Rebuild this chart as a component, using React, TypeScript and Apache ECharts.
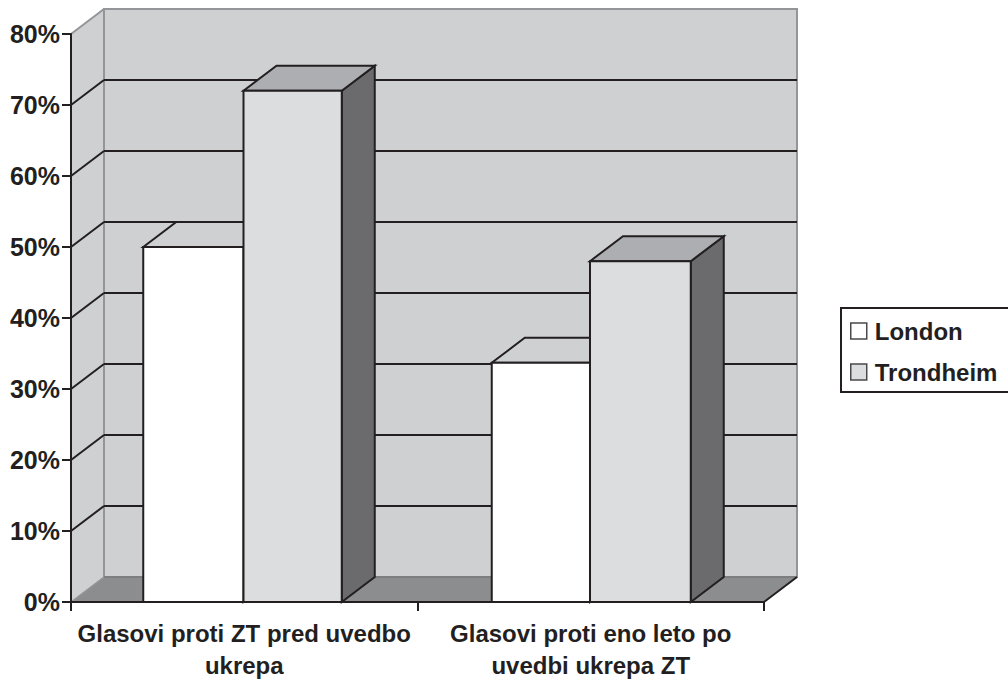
import React, { useEffect, useRef } from "react";
import * as echarts from "echarts";

const categories = ["Glasovi proti ZT pred uvedbo\nukrepa", "Glasovi proti eno leto po\nuvedbi ukrepa ZT"];
const londonValues = [50, 33.7];
const trondheimValues = [72, 48];
const gridTicks = [10, 20, 30, 40, 50, 60, 70];

const INK = "#231f20";
const WALL = "#cfd0d2";
const WALL_EDGE = "#939598";
const FLOOR = "#8c8d8f";
const DX = 33;
const DY = -25;
// Bar edges, in px from the category centre: [left, middle, right]
const barEdges = [
  [-101, -0.75, 97.5],
  [-99, -0.75, 100],
];

const poly = (points: number[][], fill: string, stroke: string | null, lineWidth = 2) => ({
  type: "polygon",
  shape: { points },
  style: { fill, stroke: stroke ?? "none", lineWidth, lineJoin: "miter" },
});
const seg = (a: number[], b: number[], stroke: string, lineWidth = 2) => ({
  type: "line",
  shape: { x1: a[0], y1: a[1], x2: b[0], y2: b[1] },
  style: { stroke, lineWidth },
});

function renderWalls(params: any, api: any) {
  const cs = params.coordSys;
  const l = cs.x;
  const r = cs.x + cs.width;
  const t = cs.y;
  const b = cs.y + cs.height;
  return {
    type: "group",
    children: [
      poly([[l + DX, t + DY], [r + DX, t + DY], [r + DX, b + DY], [l + DX, b + DY]], WALL, WALL_EDGE, 2),
      poly([[l, b], [l, t], [l + DX, t + DY], [l + DX, b + DY]], WALL, null),
      seg([l, t], [l + DX, t + DY], WALL_EDGE),
      seg([l + DX, t + DY], [l + DX, b + DY], WALL_EDGE),
      poly([[l, b], [r, b], [r + DX, b + DY], [l + DX, b + DY]], FLOOR, null),
      seg([l + DX, b + DY], [r + DX, b + DY], "#7d7e80"),
      seg([l, b], [l + DX, b + DY], WALL_EDGE, 1.5),
      seg([r, b], [r + DX, b + DY], INK),
    ],
  };
}

function renderGridLine(params: any, api: any) {
  const y = api.coord([0, api.value(0)])[1];
  const cs = params.coordSys;
  const l = cs.x;
  const r = cs.x + cs.width;
  return {
    type: "group",
    children: [
      seg([l, y], [l + DX, y + DY], INK),
      seg([l + DX, y + DY], [r + DX, y + DY], INK),
    ],
  };
}

function barRenderer(slot: number, front: string, top: string, side: string) {
  return (params: any, api: any) => {
    const idx = api.value(0);
    const p = api.coord([idx, api.value(1)]);
    const base = api.coord([idx, 0]);
    const e = barEdges[idx];
    const x0 = p[0] + e[slot];
    const x1 = p[0] + e[slot + 1];
    const yt = p[1];
    const yb = base[1];
    return {
      type: "group",
      children: [
        poly([[x1, yt], [x1 + DX, yt + DY], [x1 + DX, yb + DY], [x1, yb]], side, INK),
        poly([[x0, yt], [x0 + DX, yt + DY], [x1 + DX, yt + DY], [x1, yt]], top, INK),
        poly([[x0, yt], [x1, yt], [x1, yb], [x0, yb]], front, INK),
      ],
    };
  };
}

export default function App() {
  const ref = useRef<HTMLDivElement>(null);
  useEffect(() => {
    const chart = echarts.init(ref.current!, null, { renderer: "svg" });
    const font = { fontFamily: "Liberation Sans", fontWeight: "bold" as const, fontSize: 24, color: INK };
    chart.setOption({
      animation: false,
      backgroundColor: "#ffffff",
      grid: { left: 71, top: 34, width: 693, height: 568, containLabel: false, outerBoundsMode: "none" },
      graphic: [
        {
          type: "rect",
          silent: true,
          shape: { x: 841, y: 308, width: 200, height: 84 },
          style: { fill: "#ffffff", stroke: INK, lineWidth: 2 },
        },
      ],
      legend: {
        left: 842,
        top: 310,
        orient: "vertical",
        padding: [9, 0, 9, 8],
        itemGap: 17,
        itemWidth: 16,
        itemHeight: 16,
        textStyle: { ...font, padding: [0, 0, 0, 3] },
        data: [
          { name: "London", icon: "rect", itemStyle: { color: "#ffffff", borderColor: "#4a4a4c", borderWidth: 1.5 } },
          { name: "Trondheim", icon: "rect", itemStyle: { color: "#dcddde", borderColor: "#4a4a4c", borderWidth: 1.5 } },
        ],
      },
      xAxis: {
        type: "category",
        data: categories,
        z: 5,
        axisLine: { lineStyle: { color: INK, width: 2 } },
        axisTick: { show: true, length: 9, lineStyle: { color: INK, width: 2 } },
        axisLabel: { ...font, margin: 15, lineHeight: 32, interval: 0, overflow: "none" },
      },
      yAxis: {
        type: "value",
        min: 0,
        max: 80,
        interval: 10,
        z: 5,
        splitLine: { show: false },
        axisLine: { show: true, lineStyle: { color: INK, width: 2 } },
        axisTick: { show: true, length: 9, lineStyle: { color: INK, width: 2 } },
        axisLabel: { ...font, fontSize: 25, margin: 11, formatter: "{value}%" },
      },
      series: [
        { type: "custom", name: "walls", silent: true, z: 1, clip: false, data: [[0]], renderItem: renderWalls },
        { type: "custom", name: "grid", silent: true, z: 1.5, clip: false, data: gridTicks.map((v) => [v]), renderItem: renderGridLine },
        {
          type: "custom",
          name: "London",
          silent: true,
          z: 2,
          clip: false,
          itemStyle: { color: "#ffffff" },
          data: londonValues.map((v, i) => [i, v]),
          renderItem: barRenderer(0, "#ffffff", WALL, "#8c8d8f"),
        },
        {
          type: "custom",
          name: "Trondheim",
          silent: true,
          z: 3,
          clip: false,
          itemStyle: { color: "#dcddde" },
          data: trondheimValues.map((v, i) => [i, v]),
          renderItem: barRenderer(1, "#dcddde", "#adaeb1", "#6b6b6d"),
        },
      ],
    });
    return () => chart.dispose();
  }, []);
  return <div ref={ref} style={{ position: "absolute", left: 0, top: 0, width: 1008, height: 681 }} />;
}
